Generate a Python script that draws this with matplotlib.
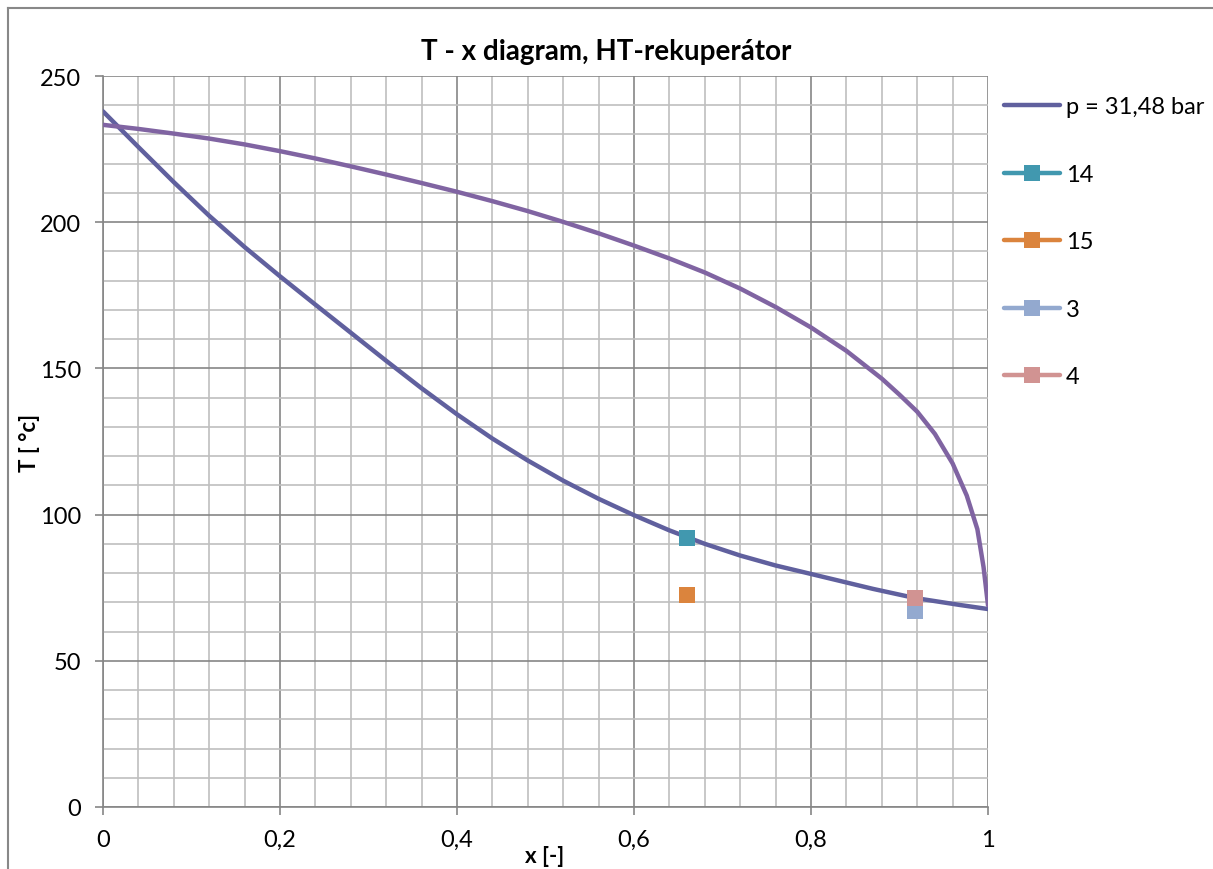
import matplotlib
matplotlib.use("Agg")
from matplotlib import pyplot as plt
from matplotlib.lines import Line2D
from matplotlib.ticker import MultipleLocator, FuncFormatter

plt.rcParams['font.family'] = ['Lato', 'DejaVu Sans']

# lower curve (p = 31,48 bar)
x_low = [0, 0.04, 0.08, 0.12, 0.16, 0.2, 0.24, 0.28, 0.32, 0.36, 0.4, 0.44, 0.48,
         0.52, 0.56, 0.6, 0.64, 0.68, 0.72, 0.76, 0.8, 0.87, 0.917, 0.968, 1.0]
t_low = [237.9, 225.7, 213.7, 202.2, 191.5, 181.5, 171.8, 162.2, 152.6, 143.2, 134.3,
         126.0, 118.5, 111.6, 105.4, 99.8, 94.6, 90.0, 86.0, 82.6, 79.7, 74.6, 71.5,
         69.1, 67.7]

# upper curve
x_up = [0, 0.04, 0.08, 0.12, 0.16, 0.2, 0.24, 0.28, 0.32, 0.36, 0.4, 0.44, 0.48, 0.52,
        0.56, 0.6, 0.64, 0.68, 0.72, 0.76, 0.8, 0.84, 0.88, 0.9, 0.92, 0.94, 0.96,
        0.976, 0.988, 0.995, 1.0]
t_up = [233.3, 231.9, 230.3, 228.6, 226.6, 224.3, 221.8, 219.1, 216.3, 213.4, 210.4,
        207.2, 203.8, 200.1, 196.2, 192.0, 187.6, 182.8, 177.3, 171.0, 164.0, 156.0,
        146.5, 141.0, 135.2, 127.6, 117.5, 106.5, 95.0, 82.0, 69.0]

# state points
point_labels = ['14', '15', '3', '4']
point_x = [0.66, 0.66, 0.917, 0.917]
point_t = [92.0, 72.4, 67.2, 71.5]
point_colors = ['#4198AF', '#DB843D', '#93A9CF', '#D19392']

W, H = 1213, 870
fig = plt.figure(figsize=(W / 100, H / 100), dpi=100)
ax = fig.add_axes([103 / W, 1 - 808 / H, (988 - 103) / W, (808 - 77) / H])

ax.plot(x_low, t_low, color='#60609E', lw=3.2, label='p = 31,48 bar', zorder=3,
        solid_joinstyle='round', solid_capstyle='round')
ax.plot(x_up, t_up, color='#8064A2', lw=3.2, zorder=3,
        solid_joinstyle='round', solid_capstyle='round')
for lab, px, pt, c in zip(point_labels, point_x, point_t, point_colors):
    ax.plot([px], [pt], color=c, lw=3.2, marker='s', markersize=11,
            markeredgewidth=0, label=lab, zorder=4, solid_capstyle='round')

ax.set_xlim(0, 1)
ax.set_ylim(0, 250)
ax.xaxis.set_major_locator(MultipleLocator(0.2))
ax.xaxis.set_minor_locator(MultipleLocator(0.04))
ax.yaxis.set_major_locator(MultipleLocator(50))
ax.yaxis.set_minor_locator(MultipleLocator(10))
ax.xaxis.set_major_formatter(FuncFormatter(lambda v, p: ('%g' % round(v, 2)).replace('.', ',')))
ax.grid(which='major', color='#868686', lw=1.2)
ax.grid(which='minor', color='#BFBFBF', lw=1.2)
ax.set_axisbelow(True)
for s in ['top', 'right']:
    ax.spines[s].set_visible(False)
for s in ['left', 'bottom']:
    ax.spines[s].set_color('#868686')
    ax.spines[s].set_linewidth(1.2)
ax.tick_params(which='major', length=6, width=1.2, color='#868686', labelsize=17, pad=10)
ax.tick_params(which='minor', length=0)

fig.text(0.5, 1 - 52 / H, 'T - x diagram, HT-rekuperátor', ha='center', va='center',
         fontsize=20, fontweight='bold')
fig.text(545 / W, 1 - 857 / H, 'x [-]', ha='center', va='center', fontsize=16, fontweight='bold')
fig.text(30 / W, 1 - 443 / H, 'T [ °c]', ha='center', va='center', rotation=90,
         fontsize=16, fontweight='bold')

ax.legend(loc='upper left', bbox_to_anchor=(995 / W, 1 - 88 / H), bbox_transform=fig.transFigure,
          frameon=False, fontsize=17, handlelength=2.35, handletextpad=0.25,
          labelspacing=1.97, borderaxespad=0)

# chart border
fig.add_artist(Line2D([7.5 / W, 7.5 / W], [0, 1 - 8.5 / H], color='#888888', lw=1.5,
                      transform=fig.transFigure))
fig.add_artist(Line2D([7.5 / W, 1], [1 - 8.5 / H, 1 - 8.5 / H], color='#888888', lw=1.5,
                      transform=fig.transFigure))

fig.savefig('out.png', dpi=100)
